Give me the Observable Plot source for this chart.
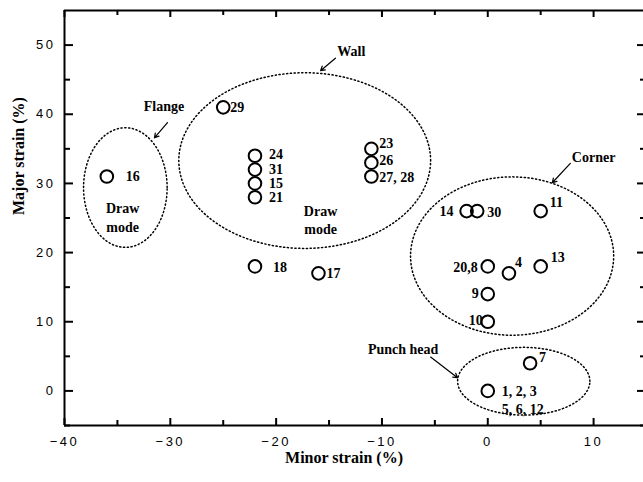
<!DOCTYPE html>
<html><head><meta charset="utf-8">
<script src="https://cdn.jsdelivr.net/npm/d3@7"></script>
<script src="https://cdn.jsdelivr.net/npm/@observablehq/plot@0.6"></script>
<style>
html,body{margin:0;padding:0;overflow:hidden;background:#fff}
svg g[aria-label="x-axis tick label"] text, svg g[aria-label="y-axis tick label"] text { letter-spacing: 2.5px; }
</style>
</head><body><div id="chart"></div>
<script>
// Data
const pointLabels = ["16","29","24","31","15","21","18","17","23","26","27, 28","14","30","11","20,8","4","13","9","10","7","1, 2, 3"];
const minorStrain = [-36,-25,-22,-22,-22,-22,-22,-16,-11,-11,-11,-2,-1,5,0,2,5,0,0,4,0];
const majorStrain = [31,41,34,32,30,28,18,17,35,33,31,26,26,26,18,17,18,14,10,4,0];
const extraLabel = {text: "5, 6, 12", x: 0, y: 0};

const xMajorTicks = [-40,-30,-20,-10,0,10];
const xMinorTicks = [-35,-25,-15,-5,5];
const yMajorTicks = [0,10,20,30,40,50];
const yMinorTicks = [-5,5,15,25,35,45];

// Region outlines (centre and radii in strain units)
const regionNames = ["Flange","Wall","Corner","Punch head"];
const regionCx = [-34.25,-17.3,2.3,3.4];
const regionCy = [29.4,33.3,19.5,1.4];
const regionRx = [3.95,11.9,9.6,6.25];
const regionRy = [8.65,12.7,11.45,4.9];

// Region labels and arrows (strain units)
const regionLabelX = [-30.6,-12.9,10.0,-8.0];
const regionLabelY = [41.1,49.1,33.7,6.05];
const arrowX1 = [-30.27,-14.4,7.8,-5.4];
const arrowY1 = [38.8,48.1,32.9,4.9];
const arrowX2 = [-31.5,-15.8,6.1,-2.86];
const arrowY2 = [36.6,46.3,30.1,1.9];
const modeLabelX = [-34.5,-15.8];
const modeLabelY = [25.2,24.8];

// styling offsets for point labels [dx, dy, anchor]
const labelStyle = [
  [19,0,"start"],[7,0,"start"],[14,-1,"start"],[14,0,"start"],[14,0,"start"],[14,0,"start"],
  [18,1,"start"],[8,0,"start"],[8,-5,"start"],[8,-2,"start"],[8,1,"start"],
  [-13,0,"end"],[10,1,"start"],[9,-9,"start"],[-10,1,"end"],[6,-11,"start"],[10,-9,"start"],
  [-9,-1,"end"],[-5,-1,"end"],[9,-6,"start"],[14,1,"start"]
];

const points = pointLabels.map((t,i)=>({label:t, x:minorStrain[i], y:majorStrain[i]}));

const outline = [];
regionNames.forEach((n,i)=>{
  for (let k=0;k<=120;k++){
    const a = 2*Math.PI*k/120;
    outline.push({name:n, x: regionCx[i]+regionRx[i]*Math.cos(a), y: regionCy[i]+regionRy[i]*Math.sin(a)});
  }
});
const regions = regionNames.map((n,i)=>({name:n, lx:regionLabelX[i], ly:regionLabelY[i],
  x1:arrowX1[i], y1:arrowY1[i], x2:arrowX2[i], y2:arrowY2[i]}));
const modes = modeLabelX.map((x,i)=>({x, y:modeLabelY[i], t:"Draw\nmode"}));

const W = 643, H = 482, mL = 64, mR = 0, mT = 10, mB = 57;
const pw = W-mL-mR, ph = H-mT-mB;
const serif = "Liberation Serif, Times New Roman, serif";
const sans = "Liberation Sans, Arial, sans-serif";

const labelMarks = points.map((p,i)=>Plot.text([p], {x: "x", y: "y", text: "label",
  dx: labelStyle[i][0], dy: labelStyle[i][1], textAnchor: labelStyle[i][2],
  fontFamily: serif, fontSize: 14, fontWeight: "bold", fill: "#000"}));

const chart = Plot.plot({
  width: W, height: H,
  marginLeft: mL, marginRight: mR, marginTop: mT, marginBottom: mB,
  x: {domain: [-40, 15], range: [64, 646]},
  y: {domain: [-5, 55]},
  style: {fontFamily: sans, background: "#fff", color: "#000"},
  marks: [
    // ticks (inward)
    Plot.ruleX(xMajorTicks, {x: d=>d, insetTop: ph-7, strokeWidth: 2}),
    Plot.ruleX(xMinorTicks, {x: d=>d, insetTop: ph-5, strokeWidth: 2}),
    Plot.ruleX(xMajorTicks, {x: d=>d, insetBottom: ph-7, strokeWidth: 2}),
    Plot.ruleX(xMinorTicks, {x: d=>d, insetBottom: ph-5, strokeWidth: 2}),
    Plot.ruleY(yMajorTicks, {y: d=>d, insetRight: pw-9, strokeWidth: 2}),
    Plot.ruleY(yMinorTicks, {y: d=>d, insetRight: pw-6, strokeWidth: 2}),
    Plot.ruleY(yMajorTicks, {y: d=>d, insetLeft: pw-6, strokeWidth: 2}),
    Plot.ruleY(yMinorTicks, {y: d=>d, insetLeft: pw-3, strokeWidth: 2}),
    Plot.axisX({anchor: "bottom", ticks: xMajorTicks, tickSize: 0, tickPadding: 11, fontSize: 13, label: null, fontFamily: sans}),
    Plot.axisY({anchor: "left", ticks: yMajorTicks, tickSize: 0, tickPadding: 9, fontSize: 13, label: null, fontFamily: sans}),
    // frame lines
    Plot.ruleX([-40, 15], {x: d=>d, strokeWidth: 2}),
    Plot.ruleY([-5, 55], {y: d=>d, strokeWidth: 2}),
    // region outlines
    Plot.line(outline, {x: "x", y: "y", z: "name", stroke: "#000", strokeWidth: 1.5, strokeDasharray: "1.2,2.6"}),
    Plot.arrow(regions, {x1: "x1", y1: "y1", x2: "x2", y2: "y2", stroke: "#000", strokeWidth: 1.2, headLength: 6}),
    Plot.text(regions, {x: "lx", y: "ly", text: "name", fontFamily: serif, fontSize: 14, fontWeight: "bold", fill: "#000"}),
    Plot.text(modes, {x: "x", y: "y", text: "t", fontFamily: serif, fontSize: 14, fontWeight: "bold", lineHeight: 1.3, fill: "#000"}),
    // points
    Plot.dot(points, {x: "x", y: "y", r: 6.3, stroke: "#000", strokeWidth: 2, fill: "none"}),
    ...labelMarks,
    Plot.text([extraLabel], {x: "x", y: "y", text: "text", dx: 14, dy: 19, textAnchor: "start", fontFamily: serif, fontSize: 14, fontWeight: "bold", fill: "#000"}),
    // axis titles
    Plot.text(["Minor strain (%)"], {frameAnchor: "bottom", text: d=>d, dx: -10, dy: 37, fontFamily: serif, fontSize: 16, fontWeight: "bold", fill: "#000"}),
    Plot.text(["Major strain (%)"], {frameAnchor: "left", text: d=>d, dx: -46, dy: -3, rotate: -90, fontFamily: serif, fontSize: 16, fontWeight: "bold", fill: "#000"})
  ]
});
document.getElementById("chart").appendChild(chart);
</script>
</body></html>
